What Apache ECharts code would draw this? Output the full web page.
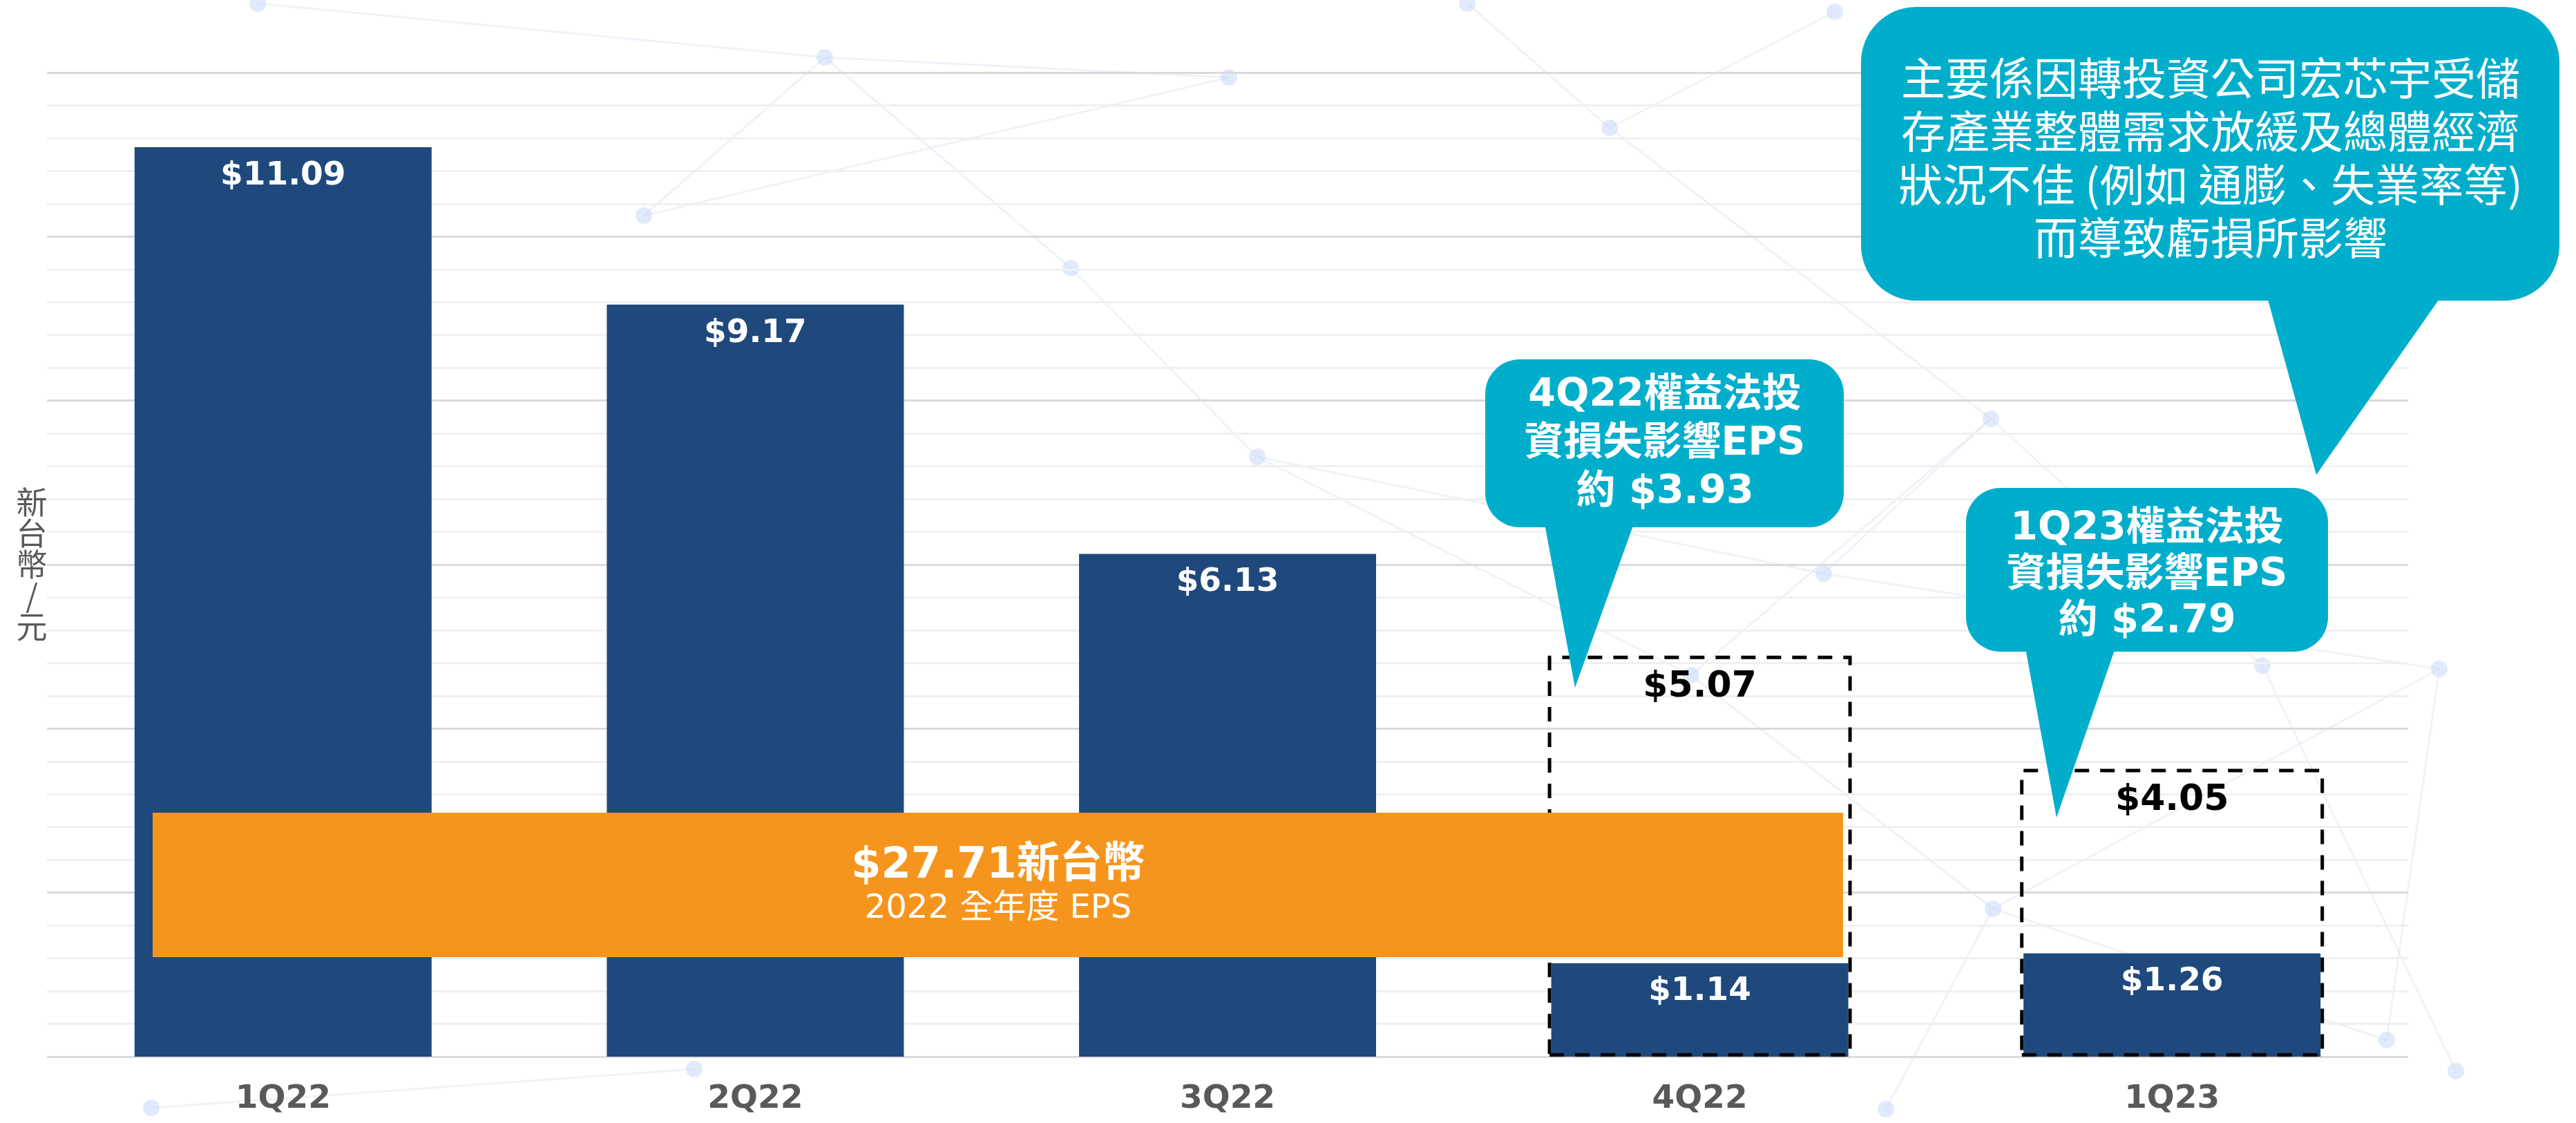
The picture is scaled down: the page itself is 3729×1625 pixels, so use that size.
<!DOCTYPE html>
<html>
<head>
<meta charset="UTF-8">
<title>EPS 1Q22 - 1Q23</title>
<script src="https://cdn.jsdelivr.net/npm/echarts@6/dist/echarts.min.js"></script>
<style>
  html, body { margin: 0; padding: 0; background: #fff; }
  #main { width: 3729px; height: 1625px; }
</style>
</head>
<body>
<div id="main"></div>
<script>
// 各季 EPS (新台幣/元)
var quarters = ['1Q22', '2Q22', '3Q22', '4Q22', '1Q23'];
var eps = [11.09, 9.17, 6.13, 1.14, 1.26];
// 排除權益法投資損失後的 EPS (虛線框上的數字)
var epsExLoss = [null, null, null, 5.07, 4.05];
// 虛線框在圖上實際畫的高度
var boxHeight = [null, null, null, 4.89, 3.51];
// 權益法投資損失影響 EPS
var lossEps = [3.93, 2.79];
var fullYearEps = 27.71;
var yTicks = [0, 12, 2];   // min, max, interval

var LATIN = '"DejaVu Sans", "Noto Sans CJK TC", sans-serif';
var CJK = '"Noto Sans CJK TC", sans-serif';
var TEAL = '#00AECC';

var chart = echarts.init(document.getElementById('main'));

function money(v) { return '$' + v.toFixed(2); }

function txt(x, y, text, font, lh) {
  return {
    type: 'text', z: 120,
    style: {
      x: x, y: y, text: text, font: font, fill: '#fff',
      align: 'center', verticalAlign: 'middle',
      textAlign: 'center', textVerticalAlign: 'middle',
      lineHeight: lh
    }
  };
}

function callout(x, y, w, h, r, tail) {
  return [
    { type: 'rect', z: 110, shape: { x: x, y: y, width: w, height: h, r: r }, style: { fill: TEAL } },
    { type: 'polygon', z: 110, shape: { points: tail }, style: { fill: TEAL } }
  ];
}

// 背景裝飾網絡
var nodes = [[373,5],[1194,83],[1779,112],[932,312],[1550,388],[2124,5],[2656,17],[2330,185],
  [2882,606],[2640,830],[3531,968],[2448,977],[2885,1315],[3455,1505],[3555,1550],[219,1603],
  [1005,1547],[1820,661],[3275,963],[2730,1605]];
var links = [[0,1],[1,2],[1,3],[1,4],[3,2],[5,7],[7,6],[7,8],[8,9],[9,10],[11,8],[11,12],
  [12,10],[12,13],[13,10],[15,16],[17,4],[17,9],[18,8],[18,14],[19,12],[11,17]];
var decor = [];
links.forEach(function (l) {
  var a = nodes[l[0]], b = nodes[l[1]];
  decor.push({ type: 'line', z: -5, silent: true,
    shape: { x1: a[0], y1: a[1], x2: b[0], y2: b[1] },
    style: { stroke: 'rgba(205,212,235,0.3)', lineWidth: 3 } });
});
nodes.forEach(function (n) {
  decor.push({ type: 'circle', z: -5, silent: true,
    shape: { cx: n[0], cy: n[1], r: 12 },
    style: { fill: 'rgba(200,216,248,0.55)' } });
});

var graphics = decor
  .concat([{ type: 'rect', z: 100, shape: { x: 221, y: 1176, width: 2447, height: 209 }, style: { fill: '#F6951E' } },
           txt(1445, 1254, money(fullYearEps) + '新台幣', 'bold 62px ' + LATIN, 70),
           txt(1445, 1316, '2022 全年度 EPS', '48px ' + LATIN, 56)])
  .concat(callout(2150, 520, 519, 243, 50, [[2236, 758], [2365, 758], [2280, 995]]))
  .concat([txt(2410, 643, '4Q22權益法投\n資損失影響EPS\n約 ' + money(lossEps[0]), 'bold 57px ' + LATIN, 70)])
  .concat(callout(2846, 706, 524, 237, 50, [[2932, 938], [3062, 938], [2977, 1183]]))
  .concat([txt(3108, 833, '1Q23權益法投\n資損失影響EPS\n約 ' + money(lossEps[1]), 'bold 57px ' + LATIN, 67)])
  .concat(callout(2694, 10, 1011, 425, 80, [[3282, 430], [3533, 430], [3353, 687]]))
  .concat([txt(3200, 228, '主要係因轉投資公司宏芯宇受儲\n存產業整體需求放緩及總體經濟\n狀況不佳 (例如 通膨、失業率等)\n而導致虧損所影響', '64px ' + CJK, 77)]);

var option = {
  backgroundColor: '#ffffff',
  animation: false,
  grid: { left: 68, right: 243, top: 105, bottom: 96 },
  xAxis: [{
    type: 'category',
    data: quarters,
    axisLine: { show: false },
    axisTick: { show: false },
    axisLabel: { margin: 38, fontSize: 47, fontWeight: 'bold', color: '#595959', fontFamily: LATIN }
  }, {
    type: 'category',
    data: quarters,
    show: false
  }],
  yAxis: {
    type: 'value',
    min: yTicks[0], max: yTicks[1], interval: yTicks[2],
    name: '新\n台\n幣\n/\n元',
    nameLocation: 'middle',
    nameRotate: 0,
    nameGap: 22,
    nameTextStyle: { fontSize: 45, color: '#595959', lineHeight: 45, align: 'center', verticalAlign: 'middle', fontFamily: CJK },
    axisLabel: { show: false },
    axisLine: { show: false },
    axisTick: { show: false },
    splitLine: { lineStyle: { color: '#dadada', width: 3 } },
    minorTick: { show: false, splitNumber: 5 },
    minorSplitLine: { show: true, lineStyle: { color: '#f0f0f0', width: 3 } }
  },
  series: [{
    name: 'EPS',
    type: 'bar',
    data: eps,
    barWidth: 430,
    z: 3,
    itemStyle: { color: '#1F497D' },
    label: {
      show: true, position: 'insideTop', distance: 18,
      color: '#fff', fontSize: 47, fontWeight: 'bold', fontFamily: LATIN,
      formatter: function (p) { return money(p.value); }
    }
  }, {
    name: '排除權益法損失',
    type: 'bar',
    xAxisIndex: 1,
    data: boxHeight,
    barWidth: 440,
    z: 4,
    itemStyle: { color: 'rgba(0,0,0,0)', borderColor: '#000', borderWidth: 5, borderType: [21, 16] },
    label: {
      show: true, position: 'insideTop', distance: 20,
      color: '#000', fontSize: 52, fontWeight: 'bold', fontFamily: LATIN,
      formatter: function (p) { return epsExLoss[p.dataIndex] == null ? '' : money(epsExLoss[p.dataIndex]); }
    }
  }],
  graphic: graphics
};

chart.setOption(option);
</script>
</body>
</html>
